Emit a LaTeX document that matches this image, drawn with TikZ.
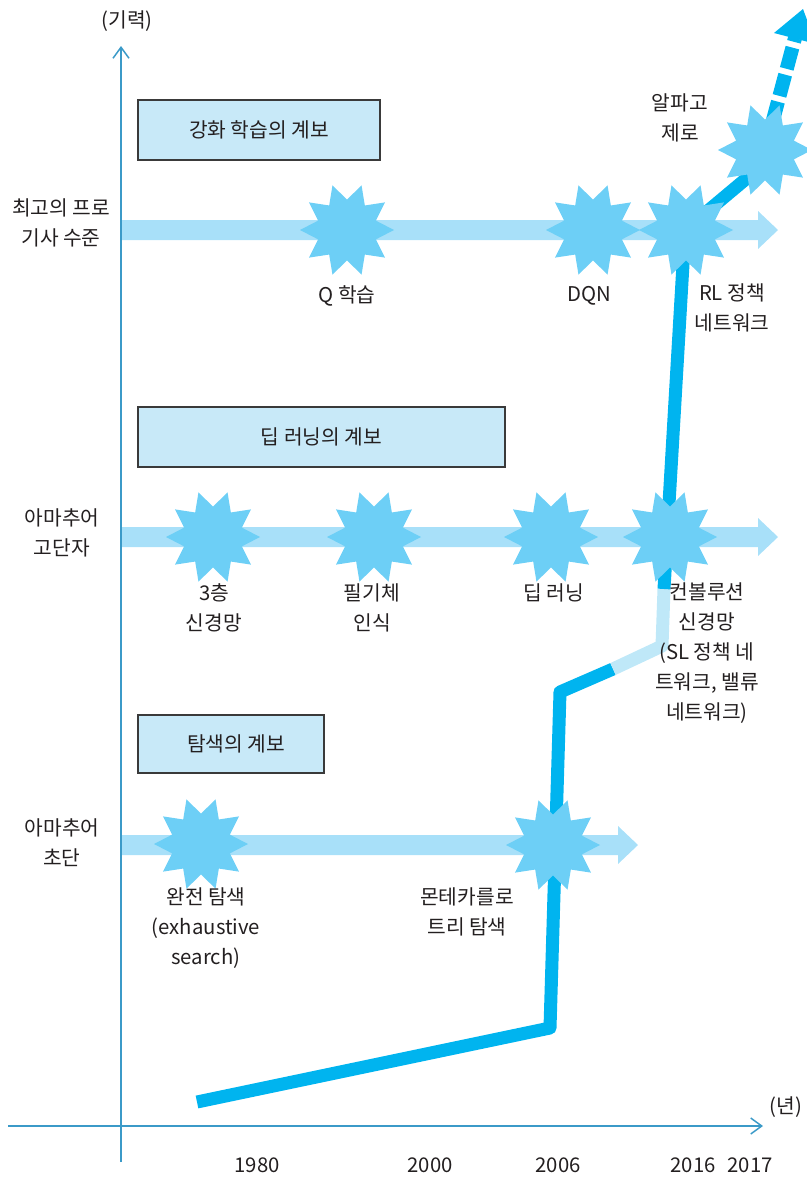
\documentclass[tikz,border=0pt]{standalone}
\usepackage{fontspec}
\setmainfont{Noto Sans CJK KR}
\usetikzlibrary{shapes.geometric,arrows.meta}
\definecolor{starc}{HTML}{6DCFF6}
\definecolor{arrc}{HTML}{A8E0F9}
\definecolor{mainc}{HTML}{00B4EF}
\definecolor{lightc}{HTML}{BFE8F8}
\definecolor{boxc}{HTML}{C8E9F8}
\definecolor{boxline}{HTML}{3A3A3A}
\definecolor{axisc}{HTML}{3B9AC8}
\definecolor{txtc}{HTML}{231F20}
\tikzset{
  burst/.style={star, star points=10, star point ratio=1.55, minimum size=94pt,
    inner sep=0pt, fill=starc, draw=none, shape border rotate=18},
  lbl/.style={align=center, font=\fontsize{20.3}{30}\selectfont, text=txtc, inner sep=0pt},
  titlebox/.style={draw=boxline, fill=boxc, line width=1.2pt, inner sep=0pt,
    font=\fontsize{20.3}{30}\selectfont, text=txtc},
  mainline/.style={line width=13pt, draw=mainc, line join=round},
  lightline/.style={line width=13pt, draw=lightc, line join=round},
  axisline/.style={draw=axisc, line width=1.5pt, -{Straight Barb[length=11pt,width=16pt]}},
  growfill/.style={fill=arrc},
}
\newcommand{\growarrow}[3]{%
  \fill[growfill] (#2,#1-10) -- (#3-20,#1-10) -- (#3-20,#1-19) -- (#3,#1)
    -- (#3-20,#1+19) -- (#3-20,#1+10) -- (#2,#1+10) -- cycle;}
\begin{document}
\begin{tikzpicture}[x=1pt,y=-1pt]
\useasboundingbox (0,0) rectangle (806,1178);

% title boxes
\node[titlebox, minimum width=242pt, minimum height=60pt] (b1) at (259,130) {강화 학습의 계보};
\node[titlebox, minimum width=367pt, minimum height=60pt] (b2) at (321.5,437) {딥 러닝의 계보};
\node[titlebox, minimum width=186pt, minimum height=58pt] (b3) at (231,744) {\hspace{10pt}탐색의 계보};

% growth arrows
\growarrow{230}{122}{778}
\growarrow{537}{122}{778}
\growarrow{845}{122}{638}

% coordinates of the main line
\coordinate (p0) at (197,1102);
\coordinate (p1) at (550,1028);
\coordinate (p2) at (560,692);
\coordinate (p3) at (613,669);
\coordinate (p4) at (662,646);
\coordinate (p5) at (664,589);
\coordinate (p6) at (685,230);
\coordinate (p7) at (765,163);

\draw[mainline] (p0) -- (p1) -- (p2) -- (p3);
\draw[lightline] (p3) -- (p4) -- (p5);
\draw[mainline] (p5) -- (p6) -- (p7);

% dashed arrow to the top
\coordinate (d0) at (765,150);
\coordinate (d1) at (795,38);
\coordinate (dt) at (803,9);
\draw[line width=14pt, draw=mainc, dash pattern=on 22pt off 6pt] (d0) -- (d1);
\fill[mainc] (dt) -- (774,33) -- (816,44) -- cycle;

% stars
\node[burst] (q) at (347,230) {};
\node[burst] (dqn) at (593,230) {};
\node[burst] (rl) at (686,230) {};
\node[burst] (agz) at (765,150) {};
\node[burst] (nn3) at (213,537) {};
\node[burst] (hw) at (374,537) {};
\node[burst] (dl) at (551,537) {};
\node[burst] (cnn) at (670,537) {};
\node[burst] (ex) at (201,844) {};
\node[burst] (mc) at (553,845) {};

% labels
\node[lbl] (ylab) at (127,21) {(기력)};
\node[lbl] (xlab) at (786,1107) {(년)};
\node[lbl] (l1) at (61,223) {최고의 프로\\기사 수준};
\node[lbl] (l2) at (62,533) {아마추어\\고단자};
\node[lbl] (l3) at (62,843) {아마추어\\초단};

\node[lbl] (tq) at (347,296) {Q 학습};
\node[lbl] (tdqn) at (589,296) {DQN};
\node[lbl] (trl) at (732,308) {RL 정책\\네트워크};
\node[lbl] (tagz) at (680,118) {알파고\\제로};
\node[lbl] (tnn3) at (214,608) {3층\\신경망};
\node[lbl] (thw) at (372,608) {필기체\\인식};
\node[lbl] (tdl) at (554,593) {딥 러닝};
\node[lbl] (tcnn) at (707,653) {컨볼루션\\신경망\\(SL 정책 네\\트워크, 밸류\\네트워크)};
\node[lbl] (tex) at (206,928) {완전 탐색\\(exhaustive\\search)};
\node[lbl] (tmc) at (467,912) {몬테카를로\\트리 탐색};

\node[lbl] (y1) at (257,1165) {1980};
\node[lbl] (y2) at (430,1165) {2000};
\node[lbl] (y3) at (558,1165) {2006};
\node[lbl] (y4) at (693,1165) {2016};
\node[lbl] (y5) at (750,1165) {2017};

% axes
\coordinate (va0) at (121,1162);
\coordinate (va1) at (121,46);
\coordinate (ha0) at (8,1126);
\coordinate (ha1) at (763,1126);
\draw[axisline] (va0) -- (va1);
\draw[axisline] (ha0) -- (ha1);
\end{tikzpicture}
\end{document}
